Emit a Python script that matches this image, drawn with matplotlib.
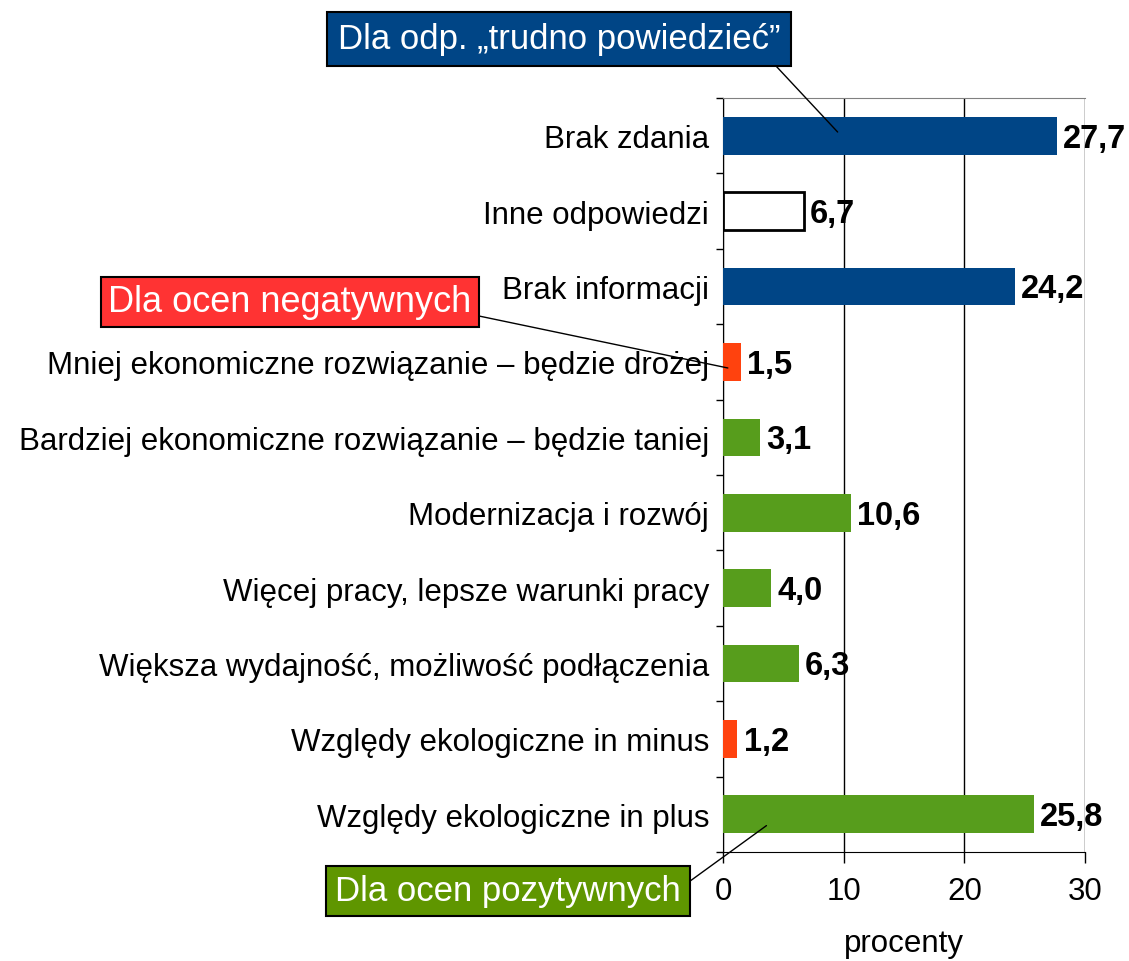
import numpy as np
import matplotlib.pyplot as plt

plt.rcParams['font.family'] = ['Liberation Sans', 'DejaVu Sans']

categories = ['Brak zdania',
              'Inne odpowiedzi',
              'Brak informacji',
              'Mniej ekonomiczne rozwiązanie – będzie drożej',
              'Bardziej ekonomiczne rozwiązanie – będzie taniej',
              'Modernizacja i rozwój',
              'Więcej pracy, lepsze warunki pracy',
              'Większa wydajność, możliwość podłączenia',
              'Względy ekologiczne in minus',
              'Względy ekologiczne in plus']
values = [27.7, 6.7, 24.2, 1.5, 3.1, 10.6, 4.0, 6.3, 1.2, 25.8]
groups = ['blue', 'white', 'blue', 'red', 'green', 'green', 'green', 'green', 'red', 'green']
labels = ['27,7', '6,7', '24,2', '1,5', '3,1', '10,6', '4,0', '6,3', '1,2', '25,8']
xticks = [0, 10, 20, 30]

bar_colors = {'blue': '#004586', 'white': 'white', 'red': '#ff420e', 'green': '#579d1c'}

fig = plt.figure(figsize=(11.29, 9.62), dpi=100)
ax = fig.add_axes([0.6404, 0.1133, 0.3206, 0.7837])

y = np.arange(len(categories))
for i, (v, g) in enumerate(zip(values, groups)):
    if g == 'white':
        ax.barh(i, v, height=0.5, color='white', edgecolor='black', linewidth=2, zorder=3)
    else:
        ax.barh(i, v, height=0.5, color=bar_colors[g], zorder=3)
    ax.text(v + 0.5, i + 0.03, labels[i], va='center', ha='left', fontsize=23.5,
            fontweight='bold', zorder=5)

ax.set_xlim(0, 30)
ax.set_ylim(9.5, -0.5)
ax.set_xticks(xticks)
ax.set_xticklabels([str(t) for t in xticks], fontsize=22.5)
ax.set_yticks(y)
ax.set_yticklabels(categories, fontsize=22.5)
ax.set_yticks(np.arange(-0.5, 10, 1), minor=True)
ax.tick_params(axis='y', which='major', length=0, pad=10)
ax.tick_params(axis='y', which='minor', length=5, width=1, direction='out')
ax.tick_params(axis='x', length=8, width=1, direction='out', pad=9)
ax.xaxis.grid(True, color='black', linewidth=1, zorder=0)
ax.set_axisbelow(True)
ax.spines['top'].set_color('#808080')
ax.spines['right'].set_visible(False)
ax.set_xlabel('procenty', fontsize=22.5, labelpad=16)

# callouts
ax.annotate('', xy=(9.5, -0.05), xycoords='data',
            xytext=(762 / 1129, 1 - 52 / 962), textcoords='figure fraction',
            arrowprops=dict(arrowstyle='-', color='black', lw=1, shrinkA=0, shrinkB=0),
            annotation_clip=False)
ax.annotate('', xy=(0.4, 3.08), xycoords='data',
            xytext=(455 / 1129, 1 - 312 / 962), textcoords='figure fraction',
            arrowprops=dict(arrowstyle='-', color='black', lw=1, shrinkA=0, shrinkB=0),
            annotation_clip=False)
ax.annotate('', xy=(3.6, 9.15), xycoords='data',
            xytext=(675 / 1129, 1 - 893 / 962), textcoords='figure fraction',
            arrowprops=dict(arrowstyle='-', color='black', lw=1, shrinkA=0, shrinkB=0),
            annotation_clip=False)

fig.text(559 / 1129, 1 - 40 / 962, 'Dla odp. \u201etrudno powiedzieć\u201d', color='white',
         fontsize=25, ha='center', va='center', zorder=10,
         bbox=dict(boxstyle='square,pad=0.3', facecolor='#004586', edgecolor='black', lw=1.5))
fig.text(290 / 1129, 1 - 303 / 962, 'Dla ocen negatywnych', color='white',
         fontsize=26, ha='center', va='center', zorder=10,
         bbox=dict(boxstyle='square,pad=0.2', facecolor='#ff3333', edgecolor='black', lw=1.5))
fig.text(508 / 1129, 1 - 892 / 962, 'Dla ocen pozytywnych', color='white',
         fontsize=25, ha='center', va='center', zorder=10,
         bbox=dict(boxstyle='square,pad=0.25', facecolor='#5f9600', edgecolor='black', lw=1.5))

plt.savefig('out.png', dpi=100)
